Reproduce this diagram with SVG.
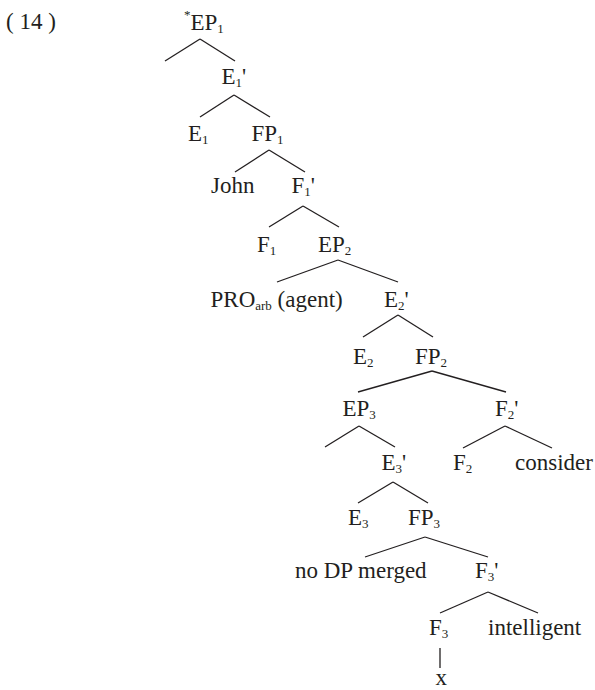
<svg xmlns="http://www.w3.org/2000/svg" width="595" height="690" viewBox="0 0 595 690" font-family="'Liberation Serif', 'DejaVu Serif', serif">
<style>
text{font-family:"Liberation Serif","DejaVu Serif",serif;font-size:23px;fill:#231f20}
.s{font-size:13px}
#edges line{stroke:#231f20;stroke-width:1.3;stroke-linecap:butt}
</style>
<rect width="595" height="690" fill="#fff"/>
<text id="label" x="6" y="29">( 14 )</text>
<g id="edges">
<line x1="200" y1="39" x2="165" y2="61"/><line x1="200" y1="39" x2="235" y2="61"/>
<line x1="234" y1="95" x2="200" y2="117"/><line x1="234" y1="95" x2="270" y2="117"/>
<line x1="269" y1="150" x2="235" y2="172"/><line x1="269" y1="150" x2="305" y2="172"/>
<line x1="303" y1="206" x2="269" y2="227"/><line x1="303" y1="206" x2="339" y2="227"/>
<line x1="338" y1="260" x2="277" y2="282"/><line x1="338" y1="260" x2="398" y2="282"/>
<line x1="398" y1="315" x2="363" y2="337"/><line x1="398" y1="315" x2="433" y2="337"/>
<line x1="432" y1="371" x2="358" y2="392"/><line x1="432" y1="371" x2="506" y2="392"/>
<line x1="359" y1="426" x2="325" y2="447"/><line x1="359" y1="426" x2="395" y2="447"/>
<line x1="505" y1="426" x2="463" y2="448"/><line x1="505" y1="426" x2="552" y2="448"/>
<line x1="393" y1="482" x2="358" y2="503"/><line x1="393" y1="482" x2="428" y2="503"/>
<line x1="425" y1="537" x2="365" y2="557"/><line x1="425" y1="537" x2="488" y2="557"/>
<line x1="488" y1="592" x2="440" y2="613"/><line x1="488" y1="592" x2="538" y2="613"/>
<line x1="440" y1="648" x2="440" y2="668"/>
</g>
<g id="EP1"><text x="184" y="19" class="s">*</text><text x="190.5" y="30">EP<tspan class="s" dy="3">1</tspan></text></g>
<g id="E1bar"><text x="221.5" y="84">E<tspan class="s" dy="3">1</tspan><tspan dy="-3">'</tspan></text></g>
<g id="E1"><text x="188" y="141">E<tspan class="s" dy="3">1</tspan></text></g>
<g id="FP1"><text x="251.5" y="141">FP<tspan class="s" dy="3">1</tspan></text></g>
<g id="John"><text x="211" y="193">John</text></g>
<g id="F1bar"><text x="291.5" y="193">F<tspan class="s" dy="3">1</tspan><tspan dy="-3">'</tspan></text></g>
<g id="F1"><text x="257" y="252">F<tspan class="s" dy="3">1</tspan></text></g>
<g id="EP2"><text x="318" y="252">EP<tspan class="s" dy="3">2</tspan></text></g>
<g id="PRO"><text x="210.5" y="307">PRO<tspan class="s" dy="3">arb</tspan><tspan dy="-3"> (agent)</tspan></text></g>
<g id="E2bar"><text x="384" y="307">E<tspan class="s" dy="3">2</tspan><tspan dy="-3">'</tspan></text></g>
<g id="E2"><text x="353" y="364">E<tspan class="s" dy="3">2</tspan></text></g>
<g id="FP2"><text x="415" y="364">FP<tspan class="s" dy="3">2</tspan></text></g>
<g id="EP3"><text x="342.5" y="416">EP<tspan class="s" dy="3">3</tspan></text></g>
<g id="F2bar"><text x="495" y="416">F<tspan class="s" dy="3">2</tspan><tspan dy="-3">'</tspan></text></g>
<g id="E3bar"><text x="381.5" y="470">E<tspan class="s" dy="3">3</tspan><tspan dy="-3">'</tspan></text></g>
<g id="F2"><text x="453" y="470">F<tspan class="s" dy="3">2</tspan></text></g>
<g id="consider"><text x="515" y="470">consider</text></g>
<g id="E3"><text x="348" y="525">E<tspan class="s" dy="3">3</tspan></text></g>
<g id="FP3"><text x="408" y="525">FP<tspan class="s" dy="3">3</tspan></text></g>
<g id="noDP"><text x="295" y="578">no DP merged</text></g>
<g id="F3bar"><text x="475" y="578">F<tspan class="s" dy="3">3</tspan><tspan dy="-3">'</tspan></text></g>
<g id="F3"><text x="429" y="635">F<tspan class="s" dy="3">3</tspan></text></g>
<g id="intelligent"><text x="488" y="635">intelligent</text></g>
<g id="x"><text x="435.5" y="685">x</text></g>
</svg>
